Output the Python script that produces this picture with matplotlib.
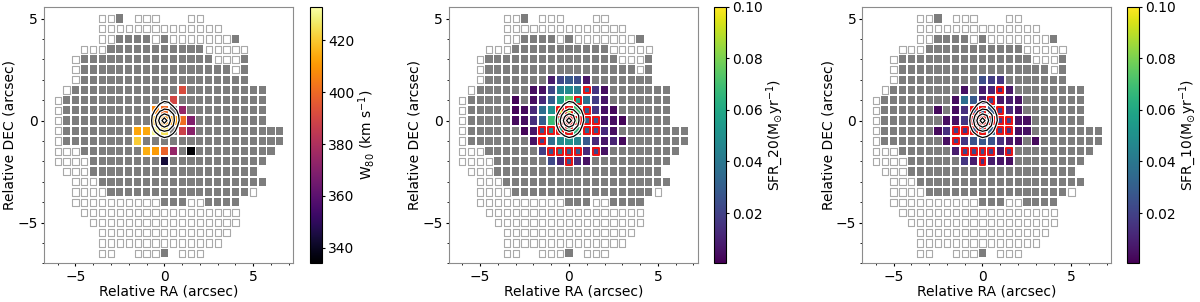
import numpy as np
import matplotlib
matplotlib.use('Agg')
import matplotlib.pyplot as plt
import matplotlib.patheffects as pe
from matplotlib.ticker import MultipleLocator
from matplotlib.patches import Rectangle
from matplotlib.collections import PatchCollection
from matplotlib.colors import Normalize
from matplotlib.cm import ScalarMappable

# ---------------- data ----------------
# spaxel grid (arcsec)
col_x = [-6.0, -5.5, -5.0, -4.5, -4.0, -3.5, -3.0, -2.5, -2.0, -1.5, -1.0, -0.5, 0.0,
         0.5, 1.0, 1.5, 2.0, 2.5, 3.0, 3.5, 4.0, 4.5, 5.0, 5.5, 6.0, 6.5]
row_y = [5.0, 4.5, 4.0, 3.5, 3.0, 2.5, 2.0, 1.5, 1.0, 0.5, 0.0, -0.5, -1.0, -1.5, -2.0,
         -2.5, -3.0, -3.5, -4.0, -4.5, -5.0, -5.5, -6.0, -6.5]
# footprint: 'o' = empty spaxel, '#' = spaxel with data, '.' = no spaxel
footprint = [
    ".....oo#.ooo...oo.........",
    ".....oooooooooooooo.......",
    ".....oo####o#ooooooo#.....",
    "...ooo###########ooooo....",
    "..o###############ooo#....",
    "..o#################o#....",
    "..o###################....",
    ".o######################..",
    "o#######################..",
    "o#######################..",
    "o#######################..",
    "o#########################",
    "o#########################",
    "ooo######################.",
    "oooo####################..",
    ".ooo###################...",
    "..ooo###################..",
    "..oooo################o...",
    "..oooooooooo###oo####.....",
    "...oooooooooooooooooo.....",
    "....ooooooooooooooooo.....",
    ".....ooooooooooooooo......",
    ".....oooooooooooooo.......",
    ".....oo..ooo#.ooo.........",
]

# W80 (km/s)
w80_x = [1.0, 0.5, -0.5, 0.0, 1.0, -0.5, 0.0, 0.5, 1.0, 1.5, -1.5, -1.0, -0.5, 0.0, 1.0, 1.5,
         -1.5, -1.0, -0.5, 0.0, 0.5, 1.5, 0.0]
w80_y = [1.5, 1.0, 0.5, 0.5, 0.5, 0.0, 0.0, 0.0, 0.0, 0.0, -0.5, -0.5, -0.5, -0.5, -0.5, -0.5,
         -1.0, -1.5, -1.5, -1.5, -1.5, -1.5, -2.0]
w80_v = [392, 390, 407, 400, 374, 418, 410, 412, 401, 369, 413, 414, 430, 425, 388, 371,
         421, 415, 411, 398, 374, 334, 344]

# SFR_20 (Msun/yr)
sfr20_x = [-1.0, -0.5, 0.0, 0.5, 1.0,
           -2.0, -1.5, -1.0, -0.5, 0.0, 0.5, 1.0, 1.5, 2.0,
           -3.0, -2.0, -1.5, -1.0, -0.5, 0.0, 0.5, 1.0, 1.5, 2.0,
           -3.0, -2.5, -2.0, -1.5, -1.0, -0.5, 0.0, 0.5, 1.0, 1.5, 2.0, 2.5,
           -3.0, -2.5, -2.0, -1.5, -1.0, -0.5, 0.0, 0.5, 1.0, 1.5, 2.0, 2.5, 3.0,
           -2.5, -2.0, -1.5, -1.0, -0.5, 0.0, 0.5, 1.0, 1.5, 2.0, 2.5,
           -2.0, -1.5, -1.0, -0.5, 0.0, 0.5, 1.0, 1.5, 2.0, 2.5, 3.0,
           -1.5, -1.0, -0.5, 0.0, 0.5, 1.0, 1.5, 2.0,
           -1.0, -0.5, 0.0, 0.5, 1.0]
sfr20_y = [2.0] * 5 + [1.5] * 9 + [1.0] * 10 + [0.5] * 12 + [0.0] * 13 + [-0.5] * 11 \
    + [-1.0] * 11 + [-1.5] * 8 + [-2.0] * 5
sfr20_v = [0.008, 0.022, 0.028, 0.024, 0.006,
           0.004, 0.005, 0.022, 0.045, 0.048, 0.042, 0.030, 0.016, 0.004,
           0.002, 0.004, 0.012, 0.030, 0.055, 0.075, 0.058, 0.038, 0.018, 0.006,
           0.002, 0.003, 0.012, 0.036, 0.050, 0.095, 0.088, 0.070, 0.030, 0.016, 0.005, 0.003,
           0.003, 0.004, 0.014, 0.030, 0.068, 0.072, 0.100, 0.080, 0.035, 0.028, 0.005, 0.004, 0.002,
           0.002, 0.006, 0.025, 0.045, 0.060, 0.070, 0.066, 0.032, 0.026, 0.012, 0.004,
           0.005, 0.020, 0.036, 0.048, 0.052, 0.046, 0.028, 0.012, 0.006, 0.010, 0.003,
           0.018, 0.025, 0.040, 0.030, 0.028, 0.012, 0.020, 0.005,
           0.022, 0.010, 0.025, 0.012, 0.005]

# SFR_10 (Msun/yr)
sfr10_x = [0.0, 0.5, 1.0,
           -1.0, 0.0, 0.5, 1.0, 1.5,
           -1.5, -1.0, -0.5, 0.0, 0.5, 1.0, 1.5, 2.0,
           -2.5, -1.5, -1.0, -0.5, 0.0, 0.5, 1.0, 1.5, 2.0,
           -2.0, -1.5, -1.0, -0.5, 0.0, 0.5, 1.0, 1.5, 2.0, 2.5,
           -2.5, -2.0, -1.5, -1.0, -0.5, 0.0, 0.5, 1.0, 1.5, 2.0, 2.5,
           -2.0, -1.5, -1.0, -0.5, 0.0, 0.5, 1.0, 1.5, 2.0, 3.0,
           -1.5, -1.0, -0.5, 0.0, 0.5, 1.0, 1.5,
           -1.0, -0.5, 0.0, 0.5, 1.0, 1.5]
sfr10_y = [2.0] * 3 + [1.5] * 5 + [1.0] * 8 + [0.5] * 9 + [0.0] * 10 + [-0.5] * 11 \
    + [-1.0] * 10 + [-1.5] * 7 + [-2.0] * 6
sfr10_v = [0.024, 0.018, 0.016,
           0.005, 0.008, 0.010, 0.012, 0.006,
           0.004, 0.036, 0.028, 0.008, 0.020, 0.006, 0.008, 0.005,
           0.003, 0.004, 0.014, 0.025, 0.030, 0.030, 0.018, 0.012, 0.005,
           0.004, 0.005, 0.016, 0.008, 0.012, 0.030, 0.018, 0.020, 0.005, 0.004,
           0.003, 0.014, 0.020, 0.016, 0.025, 0.035, 0.032, 0.020, 0.016, 0.004, 0.005,
           0.004, 0.020, 0.016, 0.026, 0.028, 0.026, 0.014, 0.006, 0.004, 0.003,
           0.008, 0.020, 0.022, 0.024, 0.020, 0.006, 0.018,
           0.016, 0.008, 0.014, 0.008, 0.006, 0.004]

# continuum flux map used for the contours (normalised)
flux_x = [-1.0, -0.75, -0.5, -0.25, 0.0, 0.25, 0.5, 0.75, 1.0]
flux_y = [1.0, 0.75, 0.5, 0.25, 0.0, -0.25, -0.5, -0.75, -1.0]
flux = [
    [0.0, 0.0, 0.0, 0.05, 0.12, 0.09, 0.02, 0.0, 0.0],
    [0.0, 0.0, 0.06, 0.20, 0.28, 0.25, 0.12, 0.02, 0.0],
    [0.0, 0.05, 0.18, 0.36, 0.44, 0.42, 0.30, 0.12, 0.0],
    [0.0, 0.10, 0.32, 0.58, 0.70, 0.62, 0.44, 0.20, 0.02],
    [0.0, 0.12, 0.40, 0.70, 1.00, 0.72, 0.46, 0.22, 0.04],
    [0.0, 0.10, 0.34, 0.58, 0.70, 0.60, 0.40, 0.16, 0.0],
    [0.0, 0.05, 0.20, 0.36, 0.42, 0.38, 0.24, 0.08, 0.0],
    [0.0, 0.0, 0.07, 0.16, 0.22, 0.18, 0.09, 0.0, 0.0],
    [0.0, 0.0, 0.0, 0.02, 0.04, 0.02, 0.0, 0.0, 0.0],
]
contour_levels = [0.16, 0.40, 0.62, 0.84]

# ---------------- plot ----------------
plt.rcParams['font.family'] = ['DejaVu Sans']
plt.rcParams['font.size'] = 10
plt.rcParams['mathtext.default'] = 'regular'

fig = plt.figure(figsize=(12, 3.02), dpi=100)

ax_rects = [[0.0369, 0.128, 0.2075, 0.8497],
            [0.3742, 0.128, 0.2073, 0.8497],
            [0.7187, 0.128, 0.2075, 0.8497]]
cax_rects = [[0.2583, 0.128, 0.0098, 0.8497],
             [0.5950, 0.128, 0.0100, 0.8497],
             [0.9393, 0.128, 0.0100, 0.8497]]

empty_x, empty_y, gray_x, gray_y = [], [], [], []
for r, row in enumerate(footprint):
    for c, ch in enumerate(row):
        if ch == 'o':
            empty_x.append(col_x[c]); empty_y.append(row_y[r])
        elif ch == '#':
            gray_x.append(col_x[c]); gray_y.append(row_y[r])

w80_set = set(zip(w80_x, w80_y))

panels = [
    dict(x=w80_x, y=w80_y, v=w80_v, cmap='inferno', vmin=334, vmax=433,
         label=r'W$_{80}$ (km s$^{-1}$)', ticks=[340, 360, 380, 400, 420], red=False),
    dict(x=sfr20_x, y=sfr20_y, v=sfr20_v, cmap='viridis', vmin=0.0005, vmax=0.10,
         label=r'SFR_20(M$_{\odot}$yr$^{-1}$)', ticks=[0.02, 0.04, 0.06, 0.08, 0.10], red=True),
    dict(x=sfr10_x, y=sfr10_y, v=sfr10_v, cmap='viridis', vmin=0.0005, vmax=0.10,
         label=r'SFR_10(M$_{\odot}$yr$^{-1}$)', ticks=[0.02, 0.04, 0.06, 0.08, 0.10], red=True),
]

SIDE_FULL = 0.40    # arcsec
SIDE_EMPTY = 0.35
SIDE_RED = 0.33


def squares(ax, xs, ys, side, **kw):
    rects = [Rectangle((x - side / 2.0, y - side / 2.0), side, side) for x, y in zip(xs, ys)]
    pc = PatchCollection(rects, **kw)
    ax.add_collection(pc)
    return pc


FX, FY = np.meshgrid(flux_x, flux_y)
F = np.array(flux)

for p, rect, crect in zip(panels, ax_rects, cax_rects):
    ax = fig.add_axes(rect)
    squares(ax, empty_x, empty_y, SIDE_EMPTY, facecolor='white', edgecolor='#a9a9a9',
            linewidths=0.8, zorder=2)
    squares(ax, gray_x, gray_y, SIDE_FULL, facecolor='#7d7d7d', edgecolor='none', zorder=2)

    norm = Normalize(vmin=p['vmin'], vmax=p['vmax'])
    xs, ys, vs = np.array(p['x']), np.array(p['y']), np.array(p['v'])
    if p['red']:
        mask = np.array([(a, b) in w80_set for a, b in zip(p['x'], p['y'])])
    else:
        mask = np.zeros(len(xs), dtype=bool)
    pc = squares(ax, xs[~mask], ys[~mask], SIDE_FULL, cmap=p['cmap'], norm=norm,
                 edgecolor='none', zorder=3)
    pc.set_array(vs[~mask])
    if mask.any():
        pr = squares(ax, xs[mask], ys[mask], SIDE_RED, cmap=p['cmap'], norm=norm,
                     edgecolor='#ee1111', linewidths=1.4, zorder=4)
        pr.set_array(vs[mask])

    cs = ax.contour(FX, FY, F, levels=contour_levels, colors='black', linewidths=0.9, zorder=6)
    cs.set(path_effects=[pe.Stroke(linewidth=2.4, foreground='white'), pe.Normal()])

    ax.set_xlim(-6.75, 7.25)
    ax.set_ylim(-7.0, 5.58)
    ax.set_xticks([-5, 0, 5])
    ax.set_yticks([-5, 0, 5])
    ax.xaxis.set_minor_locator(MultipleLocator(1))
    ax.yaxis.set_minor_locator(MultipleLocator(1))
    ax.tick_params(which='major', length=2.5, pad=2, labelsize=10)
    ax.tick_params(which='minor', length=1.5)
    for s in ax.spines.values():
        s.set_color('#8c8c8c')
        s.set_linewidth(0.8)
    ax.set_xlabel('Relative RA (arcsec)', fontsize=10, labelpad=1)
    ax.set_ylabel('Relative DEC (arcsec)', fontsize=10, labelpad=0.5)

    cax = fig.add_axes(crect)
    sm = ScalarMappable(norm=norm, cmap=p['cmap'])
    cb = fig.colorbar(sm, cax=cax, ticks=p['ticks'])
    if p['red']:
        cb.ax.set_yticklabels(['0.02', '0.04', '0.06', '0.08', '0.10'])
    cb.ax.tick_params(labelsize=10, length=2.5, pad=2)
    cb.set_label(p['label'], fontsize=10, labelpad=1)
    cb.outline.set_linewidth(0.8)

fig.savefig('out.png', dpi=100)
